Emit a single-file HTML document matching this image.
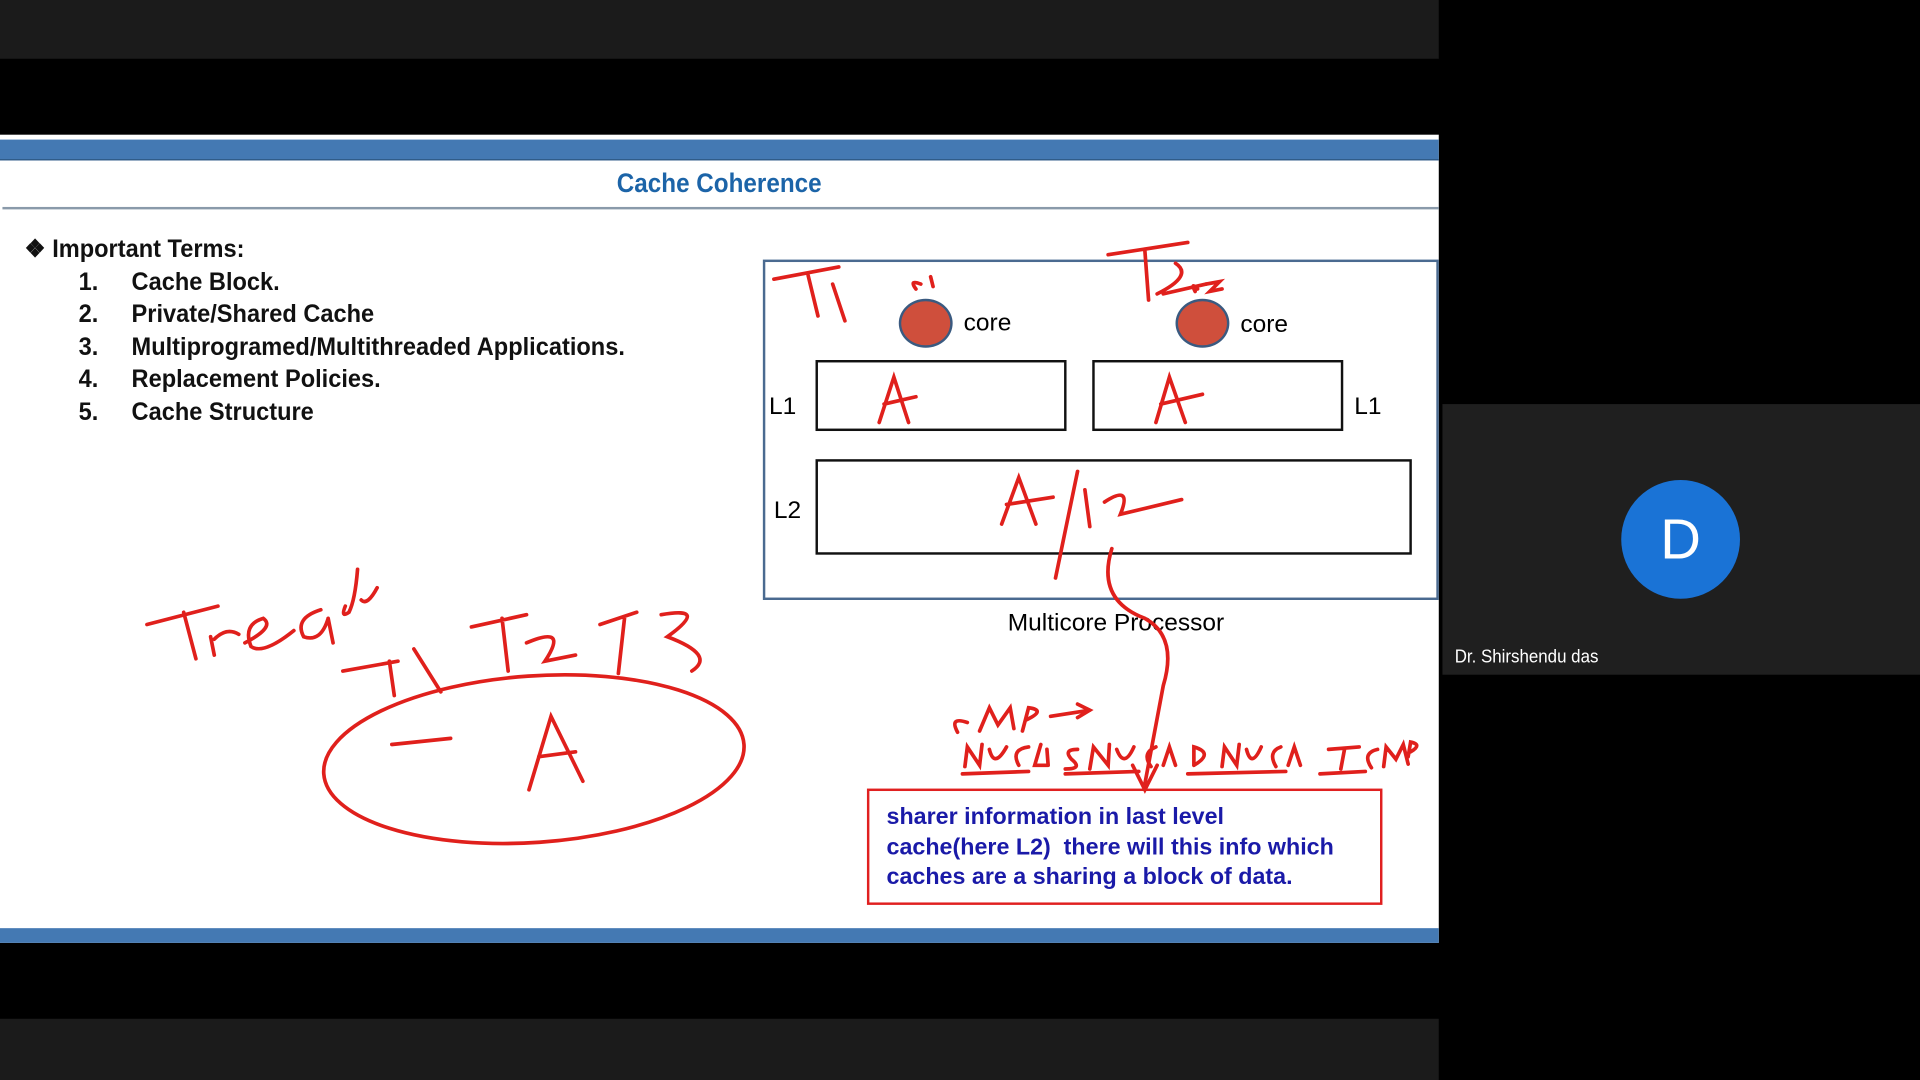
<!DOCTYPE html>
<html><head><meta charset="utf-8"><style>
html,body{margin:0;padding:0;background:#000;width:1920px;height:1080px;overflow:hidden}
#s{position:absolute;left:0;top:0;width:1568px;height:882px;transform:scale(1.22449);transform-origin:0 0;font-family:"Liberation Sans",sans-serif}
.a{position:absolute}
</style></head><body>
<div id="s">
<div class="a" style="left:0;top:0;width:1175px;height:48px;background:#1b1b1b"></div>
<div class="a" style="left:0;top:832px;width:1175px;height:50px;background:#1b1b1b"></div>
<div class="a" style="left:0;top:110px;width:1175px;height:660px;background:#fff">
 <div class="a" style="left:0;top:4px;width:1175px;height:16px;background:#4479b3;border-bottom:1px solid #2d5580"></div>
 <div class="a" style="left:0;top:648px;width:1175px;height:12px;background:#4479b3"></div>
 <div class="a" style="left:0;top:27px;width:1175px;text-align:center;color:#1c64a8;font-weight:bold;font-size:22px;transform:scaleX(0.9);transform-origin:586px 0">Cache Coherence</div>
 <div class="a" style="left:2px;top:59px;width:1173px;height:2px;background:#8a9aaa"></div>
 <div class="a" style="left:20px;top:81px;font-size:20.5px;font-weight:bold;color:#111;line-height:26.5px;transform:scaleX(0.94);transform-origin:0 0">
  <div>❖ Important Terms:</div>
  <div style="padding-left:47px"><span style="display:inline-block;width:46px">1.</span>Cache Block.</div>
  <div style="padding-left:47px"><span style="display:inline-block;width:46px">2.</span>Private/Shared Cache</div>
  <div style="padding-left:47px"><span style="display:inline-block;width:46px">3.</span>Multiprogramed/Multithreaded Applications.</div>
  <div style="padding-left:47px"><span style="display:inline-block;width:46px">4.</span>Replacement Policies.</div>
  <div style="padding-left:47px"><span style="display:inline-block;width:46px">5.</span>Cache Structure</div>
 </div>
</div>
<div class="a" style="left:623px;top:212px;width:548px;height:274px;border:2px solid #4a6a90"></div>
<div class="a" style="left:734px;top:244px;width:40px;height:36px;border-radius:50%;background:#cf4f3c;border:2px solid #3a5a80"></div>
<div class="a" style="left:960px;top:244px;width:40px;height:36px;border-radius:50%;background:#cf4f3c;border:2px solid #3a5a80"></div>
<div class="a" style="left:787px;top:253px;font-size:20px">core</div>
<div class="a" style="left:1013px;top:254px;font-size:20px">core</div>
<div class="a" style="left:666px;top:294px;width:201px;height:54px;border:2px solid #111"></div>
<div class="a" style="left:892px;top:294px;width:201px;height:54px;border:2px solid #111"></div>
<div class="a" style="left:666px;top:375px;width:483px;height:74px;border:2px solid #111"></div>
<div class="a" style="left:628px;top:321px;font-size:20px">L1</div>
<div class="a" style="left:1106px;top:321px;font-size:20px">L1</div>
<div class="a" style="left:632px;top:406px;font-size:20px">L2</div>
<div class="a" style="left:823px;top:498px;font-size:20px">Multicore Processor</div>
<div class="a" style="left:708px;top:644px;width:421px;height:95px;border:2px solid #e02020;color:#1a1aa8;font-weight:bold;font-size:19px;line-height:24.5px;padding:10px 30px 0 14px;box-sizing:border-box">sharer information in last level cache(here L2)&nbsp; there will this info which caches are a sharing a block of data.</div>
<svg class="a" style="left:0;top:0" width="1568" height="882" fill="none" stroke="#e0201c" stroke-width="3" stroke-linecap="round">
<path d="M632 228 L685 218 M660 225 L668 258 M680 232 L690 262"/>
<path d="M905 208 L970 198 M935 205 L938 245 M945 240 Q975 225 960 215 M950 240 L985 232"/>
<path d="M718 345 L730 308 L742 345 M722 330 L748 324"/>
<path d="M944 345 L955 308 L968 345 M948 330 L982 322"/>
<path d="M818 428 L832 390 L846 428 M822 412 L860 406 M880 385 L862 472 M886 400 L890 430 M902 410 Q925 395 915 420 L965 408"/>
<path d="M908 448 Q895 490 935 505 Q962 520 950 560 L935 640 M925 625 L935 645 L945 625"/>
<path d="M120 510 L178 495 M150 500 L160 538 M172 520 L175 535 M175 522 Q185 512 195 518 M200 525 Q225 512 215 505 Q198 510 205 528 Q215 535 240 515 M262 498 Q240 505 248 520 Q262 525 268 505 M268 505 L272 525 M292 465 Q290 490 285 500 Q278 505 282 495 M295 490 Q300 495 308 480"/>
<path d="M280 548 L325 540 M318 540 L322 568 M338 530 L360 565 M385 512 L430 502 M410 505 L415 548 M430 525 Q465 510 445 540 L470 535 M490 510 L520 500 M510 505 L505 550 M540 502 Q580 495 545 520 Q585 535 565 548"/>
<ellipse cx="436" cy="620" rx="172" ry="68" transform="rotate(-4 436 620)"/>
<path d="M320 608 L368 603 M432 645 L450 585 L476 638 M440 618 L470 614"/>
<path d="M790 590 Q775 585 782 598 M800 597 L808 578 L815 592 L825 578 L828 595 M835 597 L840 578 Q855 580 838 588 M858 585 L890 580 M880 575 L890 580 L880 586"/>
<path d="M788 626 L790 610 L800 625 L802 608 M808 612 Q812 628 822 610 M840 610 Q825 612 832 625 M850 608 L845 625 L855 625 M855 612 L856 625 M786 632 L840 630"/>
<path d="M880 612 Q868 612 875 620 Q885 628 870 628 M890 628 L893 610 L905 625 L906 608 M912 612 Q918 628 926 610 M944 610 Q932 615 940 626 M950 625 L955 610 L960 625 M870 632 L930 630"/>
<path d="M975 625 L975 610 Q992 615 975 625 M998 626 L1000 610 L1010 625 L1012 608 M1018 612 Q1022 628 1030 610 M1046 610 Q1035 614 1042 626 M1052 625 L1057 610 L1062 625 M970 632 L1050 630"/>
<path d="M1085 612 L1110 610 M1098 612 L1095 628 M1125 612 Q1112 615 1120 627 M1130 626 L1132 610 L1140 620 L1146 608 L1150 624 M1150 618 L1152 606 Q1162 608 1152 614 M1078 632 L1115 630"/>
<path d="M752 232 Q742 228 748 236 M760 226 L762 234 M978 236 Q972 230 976 238 M985 232 L996 230 L988 238 L998 236"/>
</svg>
<div class="a" style="left:1178px;top:330px;width:390px;height:221px;background:#1f1f1f">
 <div class="a" style="left:146px;top:62px;width:97px;height:97px;border-radius:50%;background:#1a73d6;color:#fff;font-size:46px;text-align:center;line-height:97px">D</div>
 <div class="a" style="left:10px;top:198px;color:#fff;font-size:15px;transform:scaleX(0.92);transform-origin:0 0">Dr. Shirshendu das</div>
</div>
</div>
</body></html>
